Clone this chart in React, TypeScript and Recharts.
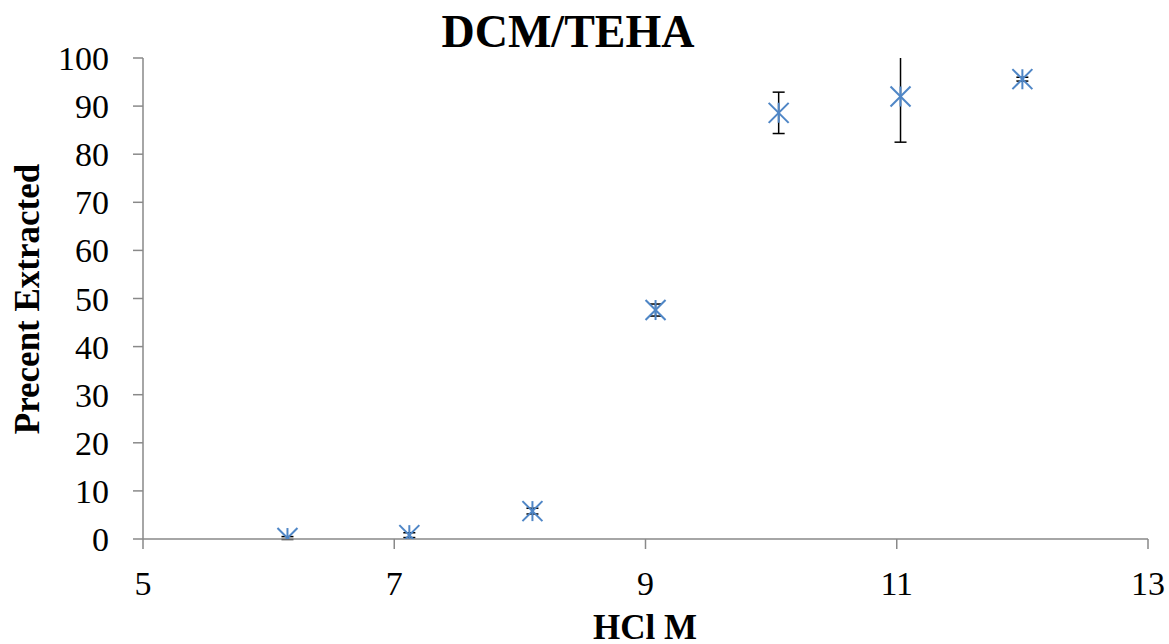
import React from "react";
import { ScatterChart, Scatter, XAxis, YAxis, ErrorBar } from "recharts";

// HCl concentration (M) for each extraction run
const hclMolarity = [6.15, 7.12, 8.1, 9.08, 10.06, 11.03, 12.0];
// Percent of metal extracted into the DCM/TEHA phase
const percentExtracted = [0.2, 0.8, 5.8, 47.6, 88.6, 92.0, 95.6];
// Standard deviation of the replicate measurements
const percentError = [0.3, 0.5, 0.6, 1.25, 4.3, 9.5, 0.4];

const xTicks = [5, 7, 9, 11, 13];
const yTicks = [0, 10, 20, 30, 40, 50, 60, 70, 80, 90, 100];

const points = hclMolarity.map((x, i) => ({
  x,
  y: percentExtracted[i],
  err: percentError[i],
}));

const WIDTH = 1169;
const HEIGHT = 644;
const MARGIN = { top: 58, right: 21, bottom: 0, left: 0 };
const Y_AXIS_WIDTH = 143;
const X_AXIS_HEIGHT = 105;
const FONT = '"Liberation Serif", "Times New Roman", serif';
const MARKER = "#4f86c6";
const AXIS = "#898989";

// Star marker: an "x" crossed by a vertical stroke
const StarMarker = (props: any) => {
  const { cx, cy } = props;
  if (cx == null || cy == null) return null;
  const r = 10;
  return (
    <g stroke={MARKER} strokeWidth={2} fill="none">
      <line x1={cx - r} y1={cy - r} x2={cx + r} y2={cy + r} />
      <line x1={cx - r} y1={cy + r} x2={cx + r} y2={cy - r} />
      <line x1={cx} y1={cy - r} x2={cx} y2={cy + r} />
    </g>
  );
};

const tickStyle = { fill: "#000", fontFamily: FONT, fontSize: 34 };

// plot area, used to keep error bars inside the axes
const plotLeft = MARGIN.left + Y_AXIS_WIDTH;
const plotTop = MARGIN.top;
const plotWidth = WIDTH - plotLeft - MARGIN.right;
const plotHeight = HEIGHT - MARGIN.top - MARGIN.bottom - X_AXIS_HEIGHT;

export default function App() {
  return (
    <div style={{ position: "absolute", left: 0, top: 0, width: WIDTH, height: HEIGHT, background: "#fff" }}>
      <style>{`.recharts-errorBars { clip-path: url(#plot-area-clip); }`}</style>
      <svg width={0} height={0} style={{ position: "absolute" }}>
        <defs>
          <clipPath id="plot-area-clip" clipPathUnits="userSpaceOnUse">
            <rect x={plotLeft} y={plotTop} width={plotWidth} height={plotHeight + 20} />
          </clipPath>
        </defs>
      </svg>
      <ScatterChart width={WIDTH} height={HEIGHT} margin={MARGIN}>
        <XAxis
          type="number"
          dataKey="x"
          domain={[5, 13]}
          ticks={xTicks}
          height={X_AXIS_HEIGHT}
          tick={tickStyle}
          tickSize={10}
          tickMargin={22}
          axisLine={{ stroke: AXIS, strokeWidth: 1.5 }}
          tickLine={{ stroke: AXIS, strokeWidth: 1.5 }}
        />
        <YAxis
          type="number"
          dataKey="y"
          domain={[0, 100]}
          allowDataOverflow
          ticks={yTicks}
          width={Y_AXIS_WIDTH}
          tick={tickStyle}
          tickSize={10}
          tickMargin={24}
          axisLine={{ stroke: AXIS, strokeWidth: 1.5 }}
          tickLine={{ stroke: AXIS, strokeWidth: 1.5 }}
        />
        <Scatter data={points} shape={<StarMarker />} isAnimationActive={false}>
          <ErrorBar dataKey="err" direction="y" width={6} stroke="#000" strokeWidth={1.5} />
        </Scatter>
      </ScatterChart>
      <svg
        width={WIDTH}
        height={HEIGHT}
        style={{ position: "absolute", left: 0, top: 0, pointerEvents: "none" }}
      >
        <text x={568} y={47} textAnchor="middle" fontFamily={FONT} fontWeight="bold" fontSize={46} fill="#000">
          DCM/TEHA
        </text>
        <text x={645} y={639} textAnchor="middle" fontFamily={FONT} fontWeight="bold" fontSize={35} fill="#000">
          HCl M
        </text>
        <text
          x={0}
          y={0}
          transform="translate(39 299) rotate(-90)"
          textAnchor="middle"
          fontFamily={FONT}
          fontWeight="bold"
          fontSize={35}
          fill="#000"
        >
          Precent Extracted
        </text>
      </svg>
    </div>
  );
}
